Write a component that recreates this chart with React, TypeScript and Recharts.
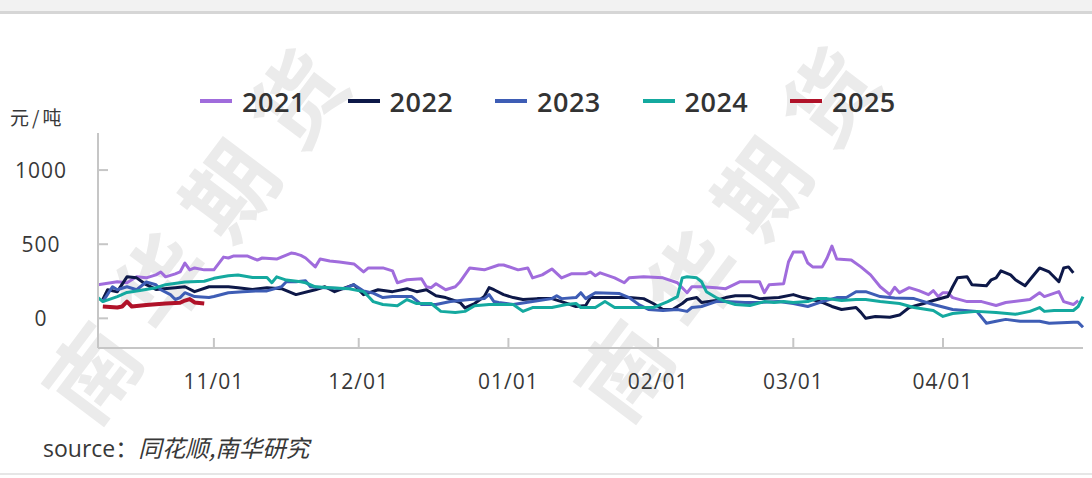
import React from 'react';
import { LineChart, Line, XAxis, YAxis } from 'recharts';

// day 0 = 10/08, last day 204 = 04/30
const tickDays = [24, 54, 85, 116, 144, 175];
const tickLabels = ['11/01', '12/01', '01/01', '02/01', '03/01', '04/01'];
const yTicks = [0, 500, 1000];

const s2021: [number, number][] = [
  [0, 227], [4, 247], [6, 240], [8, 280], [10, 273], [12, 293], [13, 313], [14, 280], [16, 300], [17, 313],
  [18, 373], [19, 327], [20, 340], [22, 327], [24, 327], [26, 413], [27, 407], [28, 420], [31, 420], [33, 393],
  [34, 407], [37, 400], [39, 427], [40, 440], [41, 435], [42, 425], [43, 407], [45, 347], [46, 400], [48, 387],
  [50, 380], [53, 367], [55, 313], [56, 340], [59, 340], [61, 320], [62, 240], [64, 260], [67, 267], [68, 213],
  [69, 207], [70, 233], [72, 193], [74, 213], [75, 247], [77, 340], [80, 327], [83, 360], [84, 360], [87, 327],
  [89, 340], [90, 273], [92, 293], [94, 333], [96, 273], [98, 300], [101, 300], [102, 313], [103, 287], [104, 307],
  [107, 273], [109, 240], [110, 273], [113, 280], [117, 273], [120, 240], [122, 173], [123, 213], [125, 213], [128, 207],
  [130, 200], [133, 247], [137, 247], [138, 173], [139, 227], [142, 233], [143, 380], [144, 447], [146, 447], [147, 373],
  [148, 347], [150, 347], [151, 407], [152, 487], [153, 400], [156, 393], [158, 347], [160, 293], [162, 213], [164, 160],
  [165, 210], [166, 173], [168, 207], [170, 187], [172, 160], [173, 187], [174, 147], [175, 173], [176, 173], [177, 140],
  [180, 113], [183, 113], [186, 87], [188, 107], [193, 127], [195, 173], [196, 147], [199, 180], [200, 113], [202, 93],
  [203, 120],
];

const s2022: [number, number][] = [
  [1, 127], [2, 193], [4, 180], [6, 280], [8, 273], [10, 227], [12, 195], [16, 207], [18, 213], [20, 180],
  [23, 213], [27, 213], [29, 207], [32, 195], [35, 207], [38, 200], [41, 160], [45, 193], [47, 213], [49, 180],
  [53, 227], [55, 160], [58, 193], [61, 180], [64, 200], [66, 180], [68, 193], [70, 153], [72, 140], [75, 107],
  [76, 70], [78, 100], [80, 147], [81, 207], [82, 193], [84, 160], [86, 140], [88, 127], [91, 133], [94, 133],
  [96, 113], [99, 80], [101, 87], [102, 140], [106, 140], [110, 140], [113, 133], [115, 100], [117, 60], [119, 60],
  [121, 100], [122, 127], [124, 140], [125, 107], [128, 120], [130, 140], [132, 153], [135, 153], [137, 133], [141, 140],
  [144, 160], [146, 140], [148, 127], [150, 107], [152, 80], [154, 60], [157, 73], [158, 40], [159, 0], [161, 13],
  [164, 7], [166, 22], [168, 73], [171, 100], [173, 120], [176, 147], [177, 213], [178, 273], [180, 280], [181, 227],
  [184, 220], [185, 260], [186, 273], [187, 320], [189, 293], [190, 260], [192, 220], [193, 260], [195, 340], [197, 313],
  [199, 247], [200, 340], [201, 347], [202, 307],
];

const s2023: [number, number][] = [
  [1, 113], [3, 213], [4, 193], [6, 213], [8, 193], [10, 245], [12, 227], [13, 193], [15, 160], [16, 127],
  [17, 140], [18, 173], [20, 147], [23, 140], [24, 147], [27, 173], [30, 180], [33, 185], [35, 185], [38, 213],
  [39, 247], [41, 247], [43, 253], [44, 213], [47, 207], [51, 200], [53, 227], [55, 185], [57, 170], [59, 140],
  [61, 147], [65, 147], [67, 93], [70, 93], [73, 113], [77, 127], [80, 133], [81, 160], [82, 113], [83, 107],
  [86, 93], [90, 113], [94, 133], [95, 153], [96, 133], [99, 140], [100, 173], [101, 133], [103, 173], [108, 167],
  [110, 140], [112, 93], [114, 60], [117, 53], [120, 60], [122, 47], [123, 73], [125, 80], [128, 113], [130, 113],
  [134, 107], [137, 107], [141, 113], [144, 100], [147, 80], [150, 113], [153, 140], [155, 140], [157, 180], [159, 180],
  [162, 147], [165, 137], [169, 133], [173, 93], [177, 60], [182, 47], [183, 7], [184, -33], [186, -20], [188, -7],
  [191, -20], [195, -20], [197, -33], [202, -27], [203, -27], [204, -60],
];

const s2024: [number, number][] = [
  [0, 140], [1, 113], [4, 147], [6, 175], [9, 190], [12, 207], [14, 227], [18, 245], [22, 250], [24, 270],
  [27, 287], [29, 293], [32, 275], [35, 275], [36, 240], [37, 280], [39, 258], [42, 247], [43, 240], [45, 213],
  [48, 207], [52, 200], [55, 180], [56, 147], [57, 113], [59, 93], [62, 85], [64, 127], [66, 100], [69, 100],
  [71, 47], [74, 40], [76, 47], [78, 85], [81, 93], [83, 93], [86, 93], [88, 47], [90, 73], [94, 73],
  [97, 93], [99, 100], [100, 73], [103, 73], [105, 113], [107, 73], [111, 73], [115, 73], [118, 113], [120, 147],
  [121, 273], [122, 280], [124, 273], [125, 247], [126, 180], [128, 140], [130, 113], [132, 93], [135, 87], [138, 113],
  [140, 107], [142, 113], [144, 107], [147, 113], [149, 133], [151, 133], [154, 120], [157, 127], [159, 127], [162, 113],
  [166, 100], [169, 73], [173, 53], [175, 13], [177, 33], [182, 47], [186, 40], [190, 27], [193, 47], [195, 73],
  [196, 47], [198, 53], [202, 53], [203, 80], [204, 147],
];

const s2025: [number, number][] = [
  [1, 80], [4, 73], [5, 80], [6, 113], [7, 80], [10, 90], [12, 95], [14, 100], [17, 105], [18, 120],
  [19, 130], [20, 107], [22, 100],
];

const SERIES = [
  { name: '2021', color: '#a06cdc', width: 3, pts: s2021 },
  { name: '2022', color: '#0d1848', width: 3, pts: s2022 },
  { name: '2023', color: '#3e5db5', width: 3, pts: s2023 },
  { name: '2024', color: '#14a99f', width: 3, pts: s2024 },
  { name: '2025', color: '#b01229', width: 4, pts: s2025 },
];

const AXIS = '#c6c6c6';
const TEXT = '#383838';

const XTick = ({ x, y, payload }: any) => (
  <g>
    <line x1={x} y1={y} x2={x} y2={y - 10} stroke={AXIS} strokeWidth={2} />
    <text x={x} y={y + 41} textAnchor="middle" fill={TEXT} fontSize={21} letterSpacing={1}>
      {tickLabels[tickDays.indexOf(payload.value)]}
    </text>
  </g>
);

const YTick = ({ x, y, payload }: any) => (
  <g>
    <line x1={x} y1={y} x2={x + 10} y2={y} stroke={AXIS} strokeWidth={2} />
    <text x={41} y={y} dy="0.36em" textAnchor="middle" fill={TEXT} fontSize={21} letterSpacing={1}>
      {payload.value}
    </text>
  </g>
);

// diagonal "南华期货" watermark behind the plot
const watermark = (cx: number, cy: number) => (
  <div
    style={{
      position: 'absolute',
      left: cx - 230,
      top: cy - 48,
      width: 460,
      height: 96,
      lineHeight: '96px',
      textAlign: 'left',
      fontSize: 90,
      fontWeight: 700,
      letterSpacing: 24,
      color: '#ebebeb',
      fontFamily: "'Noto Sans CJK SC', sans-serif",
      transform: 'rotate(-53deg)',
      whiteSpace: 'nowrap',
    }}
  >
    南华期货
  </div>
);

export default function App() {
  return (
    <div
      style={{
        position: 'absolute',
        left: 0,
        top: 0,
        width: 1092,
        height: 478,
        overflow: 'hidden',
        background: '#fff',
        fontFamily: "'Open Sans', 'Noto Sans CJK SC', sans-serif",
      }}
    >
      <div style={{ position: 'absolute', left: 0, top: 0, width: 1092, height: 11, background: '#f2f2f2' }} />
      <div style={{ position: 'absolute', left: 0, top: 11, width: 1092, height: 3, background: '#d6d6d6' }} />
      <div style={{ position: 'absolute', left: 0, top: 473, width: 1092, height: 2, background: '#e6e6e6' }} />

      {watermark(200, 222)}
      {watermark(732, 220)}

      <div style={{ position: 'absolute', left: 0, top: 0 }}>
        <LineChart width={1092} height={478} margin={{ top: 133, right: 9, bottom: 90, left: 0 }}>
          <XAxis
            type="number"
            dataKey="d"
            domain={[0, 204]}
            ticks={tickDays}
            interval={0}
            height={40}
            tickSize={0}
            tickMargin={0}
            tickLine={false}
            axisLine={{ stroke: AXIS, strokeWidth: 2 }}
            tick={<XTick />}
          />
          <YAxis
            type="number"
            domain={[-200, 1250]}
            ticks={yTicks}
            interval={0}
            width={98}
            tickSize={0}
            tickMargin={0}
            tickLine={false}
            axisLine={{ stroke: AXIS, strokeWidth: 2 }}
            tick={<YTick />}
          />
          {SERIES.map((s) => (
            <Line
              key={s.name}
              name={s.name}
              data={s.pts.map(([d, v]) => ({ d, v }))}
              dataKey="v"
              type="linear"
              stroke={s.color}
              strokeWidth={s.width}
              strokeLinejoin="round"
              dot={false}
              activeDot={false}
              isAnimationActive={false}
            />
          ))}
        </LineChart>
      </div>

      {/* legend */}
      <div style={{ position: 'absolute', left: 200, top: 84, display: 'flex' }}>
        {SERIES.map((s) => (
          <div key={s.name} style={{ width: 147.5, height: 34, display: 'flex', alignItems: 'center' }}>
            <div style={{ width: 32, height: 4, background: s.color, marginRight: 10 }} />
            <span style={{ fontSize: 27, fontWeight: 600, color: '#333', letterSpacing: 0.5 }}>{s.name}</span>
          </div>
        ))}
      </div>

      <div
        style={{
          position: 'absolute',
          left: 10,
          top: 103,
          fontSize: 19,
          letterSpacing: 3,
          color: TEXT,
          fontFamily: "'Noto Sans CJK SC', sans-serif",
        }}
      >
        元/吨
      </div>

      <div style={{ position: 'absolute', left: 43, top: 430, fontSize: 23, color: TEXT }}>
        source：<i style={{ fontFamily: "'Noto Sans CJK SC', sans-serif", fontSize: 23.5 }}>同花顺,南华研究</i>
      </div>
    </div>
  );
}
